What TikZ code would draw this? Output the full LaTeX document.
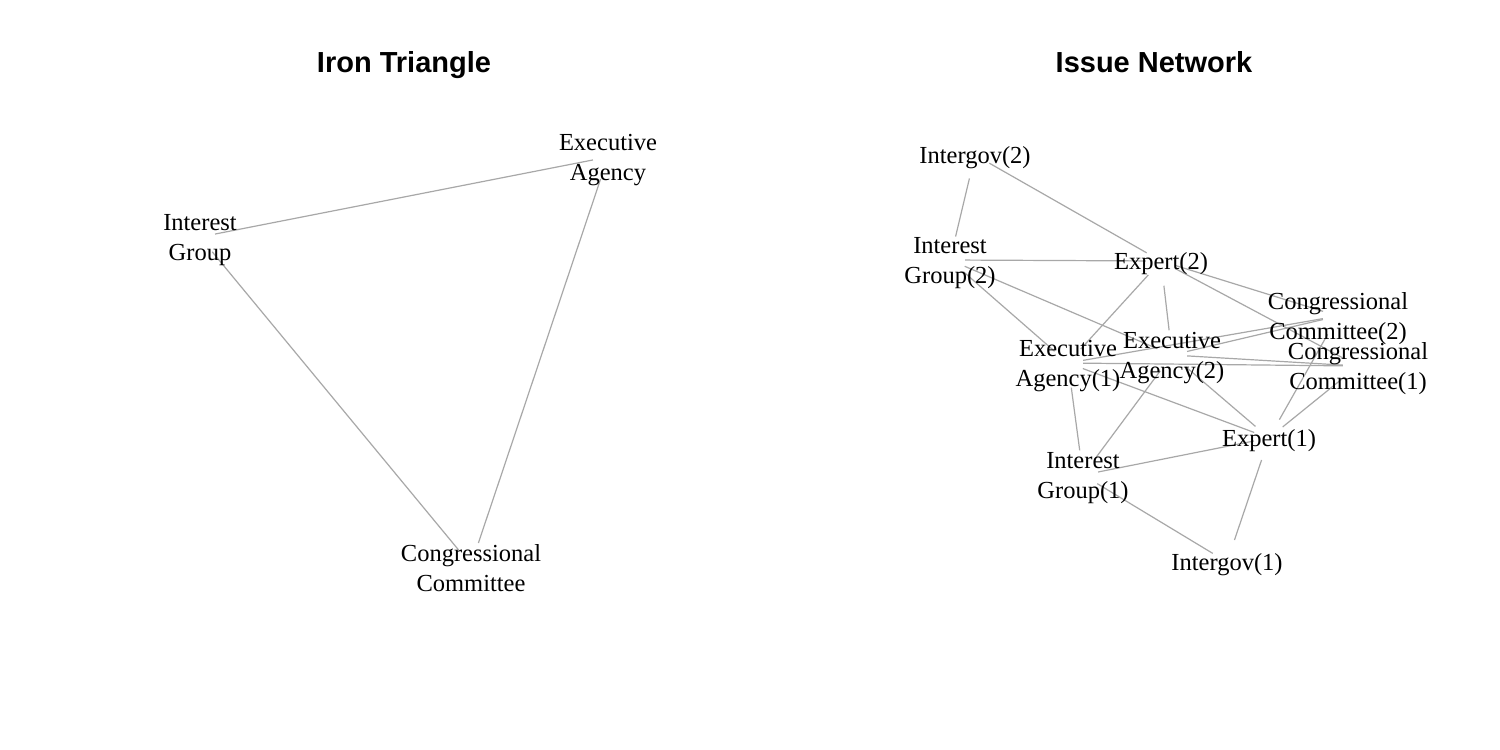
\documentclass[tikz,border=0pt]{standalone}
\usepackage{fontspec}
\setmainfont{Liberation Serif}
\newfontfamily\titlefont{Liberation Sans}
\usepackage{tikz}
\usetikzlibrary{shapes.geometric}
\definecolor{tiegray}{HTML}{A8A8A8}
\definecolor{ink}{HTML}{000000}
\tikzset{
  vertex/.style={
    ellipse,
    minimum width=30pt,
    minimum height=50pt,
    inner sep=0pt
  },
  actorlabel/.style={
    align=center,
    inner sep=0pt,
    yshift=-3pt,
    text=ink,
    font=\fontsize{24.5}{30}\selectfont
  },
  paneltitle/.style={
    anchor=base,
    inner sep=0pt,
    text=ink,
    font=\titlefont\bfseries\fontsize{29}{34}\selectfont
  },
  tie/.style={draw=tiegray,line width=1.2pt}
}

\begin{document}
\begin{tikzpicture}[x=1pt,y=-1pt]
  \useasboundingbox[fill=white] (0,0) rectangle (1500,750);
  % left panel
  \node[paneltitle] (irontitle) at (404,72) {Iron Triangle};
  \node[vertex] (grp) at (200,237) {};
  \node[vertex] (agy) at (608,157) {};
  \node[vertex] (cong) at (471,565) {};
  \draw[tie] (grp) -- (agy);
  \draw[tie] (grp) -- (cong);
  \draw[tie] (agy) -- (cong);
  \node[actorlabel] (grp label) at (grp) {Interest\\Group};
  \node[actorlabel] (agy label) at (agy) {Executive\\Agency};
  \node[actorlabel] (cong label) at (cong) {Congressional\\Committee};
  % right panel
  \node[paneltitle] (issuetitle) at (1154,72) {Issue Network};
  \node[vertex] (gov2) at (975,155) {};
  \node[vertex] (grp2) at (950,260) {};
  \node[vertex] (exp2) at (1161,261) {};
  \node[vertex] (cong2) at (1338,316) {};
  \node[vertex] (cong1) at (1358,366) {};
  \node[vertex] (agy2) at (1172,355) {};
  \node[vertex] (agy1) at (1068,363) {};
  \node[vertex] (exp1) at (1269,438) {};
  \node[vertex] (grp1) at (1083,475) {};
  \node[vertex] (gov1) at (1227,562) {};
  \draw[tie] (gov2) -- (grp2);
  \draw[tie] (gov2) -- (exp2);
  \draw[tie] (grp2) -- (exp2);
  \draw[tie] (grp2) -- (agy2);
  \draw[tie] (grp2) -- (agy1);
  \draw[tie] (exp2) -- (agy1);
  \draw[tie] (exp2) -- (agy2);
  \draw[tie] (exp2) -- (cong2);
  \draw[tie] (exp2) -- (cong1);
  \draw[tie] (agy1) -- (cong2);
  \draw[tie] (agy2) -- (cong2);
  \draw[tie] (agy1) -- (cong1);
  \draw[tie] (agy2) -- (cong1);
  \draw[tie] (agy1) -- (exp1);
  \draw[tie] (agy1) -- (grp1);
  \draw[tie] (agy2) -- (grp1);
  \draw[tie] (agy2) -- (exp1);
  \draw[tie] (cong2) -- (exp1);
  \draw[tie] (cong1) -- (exp1);
  \draw[tie] (grp1) -- (exp1);
  \draw[tie] (grp1) -- (gov1);
  \draw[tie] (exp1) -- (gov1);
  \node[actorlabel] (gov2 label) at (gov2) {Intergov(2)};
  \node[actorlabel] (grp2 label) at (grp2) {Interest\\Group(2)};
  \node[actorlabel] (exp2 label) at (exp2) {Expert(2)};
  \node[actorlabel] (cong2 label) at (cong2) {Congressional\\Committee(2)};
  \node[actorlabel] (cong1 label) at (cong1) {Congressional\\Committee(1)};
  \node[actorlabel] (agy2 label) at (agy2) {Executive\\Agency(2)};
  \node[actorlabel] (agy1 label) at (agy1) {Executive\\Agency(1)};
  \node[actorlabel] (exp1 label) at (exp1) {Expert(1)};
  \node[actorlabel] (grp1 label) at (grp1) {Interest\\Group(1)};
  \node[actorlabel] (gov1 label) at (gov1) {Intergov(1)};
\end{tikzpicture}
\end{document}
